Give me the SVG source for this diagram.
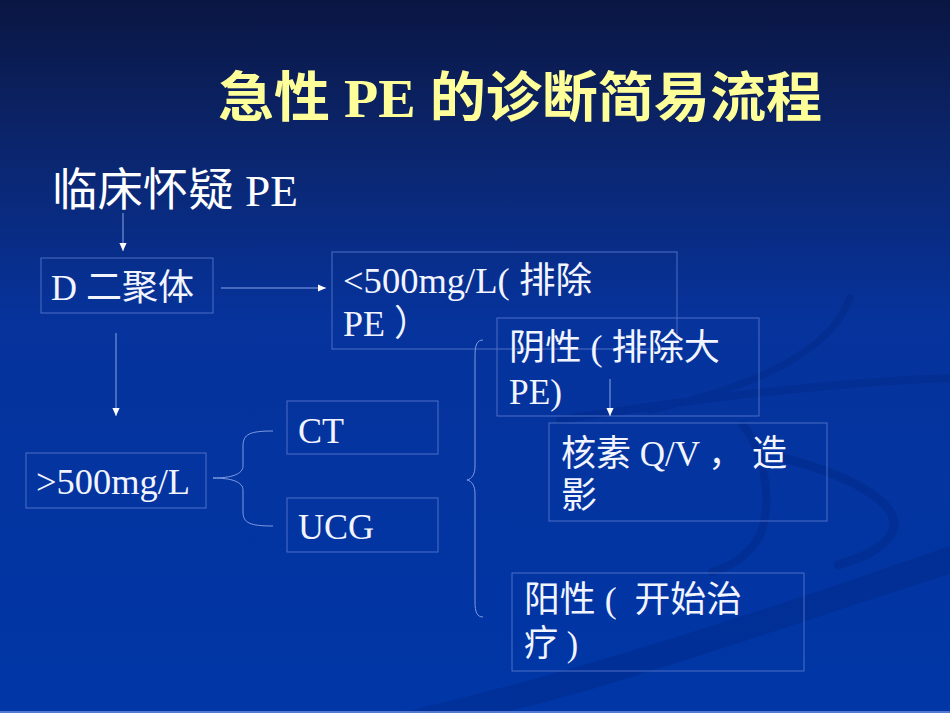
<svg xmlns="http://www.w3.org/2000/svg" width="950" height="713" viewBox="0 0 950 713">
<defs>
  <linearGradient id="bg" x1="0" y1="0" x2="0" y2="1">
    <stop offset="0" stop-color="#0a1642"/>
    <stop offset="0.2" stop-color="#0b256c"/>
    <stop offset="0.45" stop-color="#06339c"/>
    <stop offset="1" stop-color="#0036a6"/>
  </linearGradient>
  <marker id="ah" viewBox="0 0 10 10" refX="10" refY="5" markerWidth="8" markerHeight="8" markerUnits="userSpaceOnUse" orient="auto">
    <path d="M0,0.5 L10,5 L0,9.5 z" fill="#ffffff"/>
  </marker>
  <style>
    .box { fill: none; stroke: #4d6fc6; stroke-width: 1; }
    .t { font-family: "Liberation Serif", "Noto Sans CJK SC", serif; font-size: 36px; fill: #f2f5ff; }
    .conn { fill: none; stroke: #8aa4e6; stroke-width: 1; }
    .brace { fill: none; stroke: #7f9be0; stroke-width: 1; }
    .swoosh { fill: none; stroke: #00237a; stroke-linecap: round; }
  </style>
</defs>

<rect x="0" y="0" width="950" height="713" fill="url(#bg)"/>

<g id="background-swooshes" opacity="0.3">
  <path d="M400,713 C580,672 780,605 950,546 L950,574 C780,628 600,692 500,713 Z" fill="#00237a"/>
  <path class="swoosh" d="M560,420 C700,398 840,382 950,378" stroke-width="8"/>
  <path class="swoosh" d="M850,298 C835,340 780,382 650,410" stroke-width="7"/>
  <path class="swoosh" d="M743,425 C770,460 772,518 757,540 C745,558 730,567 712,572" stroke-width="8"/>
  <path class="swoosh" d="M783,458 C860,478 905,508 892,533 C882,550 860,558 838,565" stroke-width="9"/>
</g>
<line x1="0" y1="712" x2="950" y2="712" stroke="#6f8fe0" stroke-width="1.5"/>

<g id="title">
  <text x="218" y="117" font-family="Liberation Serif, Noto Sans CJK SC, serif" font-weight="bold" font-size="54" fill="#ffff99" textLength="604" lengthAdjust="spacingAndGlyphs">急性 PE 的诊断简易流程</text>
</g>

<g id="suspect">
  <text x="52" y="206" font-family="Liberation Serif, Noto Sans CJK SC, serif" font-size="45" fill="#ffffff" textLength="246" lengthAdjust="spacingAndGlyphs">临床怀疑 PE</text>
</g>

<g id="ddimer">
  <rect class="box" x="41" y="258" width="172" height="55"/>
  <text class="t" x="51" y="300" textLength="143" lengthAdjust="spacingAndGlyphs">D 二聚体</text>
</g>

<g id="low">
  <rect class="box" x="332" y="252" width="345" height="97"/>
  <text class="t" x="343" y="293" textLength="249" lengthAdjust="spacingAndGlyphs">&lt;500mg/L( 排除</text>
  <text class="t" x="343" y="336">PE ）</text>
</g>

<g id="high">
  <rect class="box" x="26" y="453" width="180" height="55"/>
  <text class="t" x="36" y="494" textLength="154" lengthAdjust="spacingAndGlyphs">&gt;500mg/L</text>
</g>

<g id="ct">
  <rect class="box" x="287" y="401" width="151" height="53"/>
  <text class="t" x="298" y="443">CT</text>
</g>

<g id="ucg">
  <rect class="box" x="287" y="498" width="151" height="54"/>
  <text class="t" x="298" y="539">UCG</text>
</g>

<g id="negative">
  <rect class="box" x="497" y="318" width="262" height="98"/>
  <text class="t" x="509" y="360" textLength="211" lengthAdjust="spacingAndGlyphs">阴性 ( 排除大</text>
  <text class="t" x="509" y="404" textLength="53" lengthAdjust="spacingAndGlyphs">PE)</text>
</g>

<g id="nuclear">
  <rect class="box" x="549" y="423" width="278" height="98"/>
  <text class="t" x="561" y="466" textLength="226" lengthAdjust="spacingAndGlyphs">核素 Q/V ， 造</text>
  <text class="t" x="561" y="508">影</text>
</g>

<g id="positive">
  <rect class="box" x="512" y="573" width="292" height="98"/>
  <text class="t" x="524" y="612" textLength="218" lengthAdjust="spacingAndGlyphs" xml:space="preserve">阳性 (  开始治</text>
  <text class="t" x="524" y="656" textLength="54" lengthAdjust="spacingAndGlyphs">疗 )</text>
</g>

<g id="connectors">
  <line class="conn" x1="123" y1="213" x2="123" y2="251" marker-end="url(#ah)"/>
  <line class="conn" x1="221" y1="288" x2="326" y2="288" marker-end="url(#ah)"/>
  <line class="conn" x1="116" y1="333" x2="116" y2="416" marker-end="url(#ah)"/>
  <line class="conn" x1="610" y1="379" x2="610" y2="416" marker-end="url(#ah)"/>
  <path class="brace" d="M273,431 C250,431 243,434 243,446 L243,466 C243,474 232,478 213,478 C232,478 243,482 243,490 L243,512 C243,523 250,526 273,526"/>
  <path class="brace" d="M483,340 C477,340 475,345 475,356 L475,466 C475,474 472,479 467,480 C472,481 475,486 475,494 L475,602 C475,612 477,617 483,617"/>
</g>
</svg>
